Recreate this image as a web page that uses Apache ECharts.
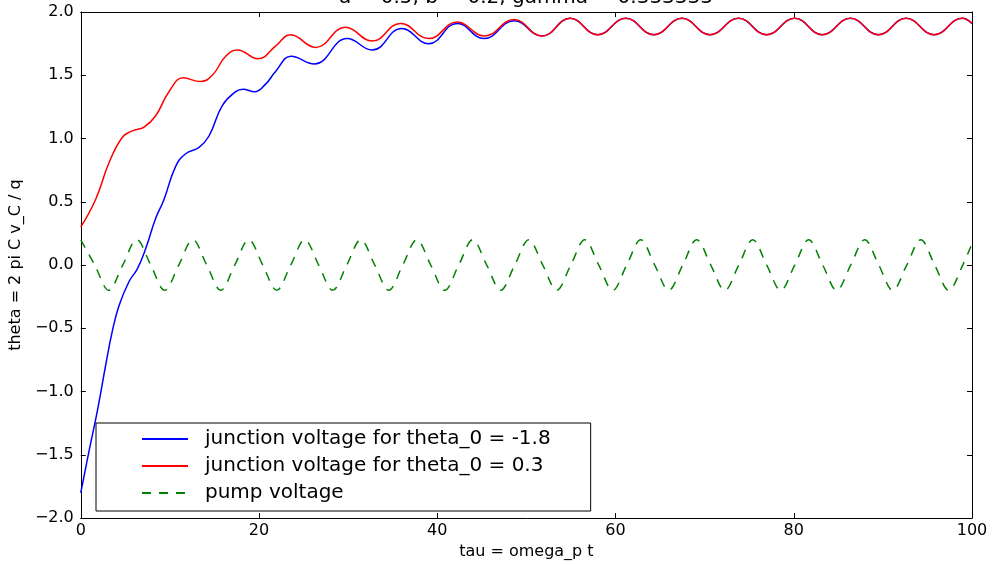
<!DOCTYPE html>
<html>
<head>
<meta charset="utf-8">
<script src="https://cdn.jsdelivr.net/npm/echarts@6/dist/echarts.min.js"></script>
<style>html,body{margin:0;padding:0;background:#fff;}#c{width:992px;height:565px;}</style>
</head>
<body>
<div id="c"></div>
<script>
const titleText = "a = 0.5, b = 0.2, gamma = 0.333333";
const xName = "tau = omega_p t";
const yName = "theta = 2 pi C v_C / q";
const seriesNames = ["junction voltage for theta_0 = -1.8", "junction voltage for theta_0 = 0.3", "pump voltage"];
const xTicks = [0, 20, 40, 60, 80, 100];
const yTicks = [-2.0, -1.5, -1.0, -0.5, 0.0, 0.5, 1.0, 1.5, 2.0];

const blueTau = [0, 0.93, 1.87, 2.80, 3.55, 4.30, 5.42, 6.35, 7.29, 8.41, 9.3, 10.65, 11.77, 13.27, 14.39, 15.88, 17.38, 18.2, 19.5, 20.74, 21.86, 23.6, 26.2, 29.9, 32.7, 36.0, 39.05, 42.23, 45.25, 48.6, 51.75, 54.9, 58.0, 61.15, 64.3, 67.45, 70.6, 73.8, 76.95, 80.1, 83.2, 86.35, 89.5, 92.6, 95.75, 98.9, 100];
const blueVal = [-1.80, -1.47, -1.15, -0.79, -0.52, -0.32, -0.13, -0.03, 0.13, 0.37, 0.51, 0.78, 0.88, 0.93, 1.02, 1.26, 1.37, 1.39, 1.37, 1.43, 1.53, 1.65, 1.59, 1.79, 1.70, 1.87, 1.75, 1.91, 1.79, 1.93, 1.81, 1.95, 1.82, 1.95, 1.82, 1.95, 1.82, 1.95, 1.82, 1.95, 1.82, 1.95, 1.82, 1.95, 1.82, 1.95, 1.91];

const redTau = [0, 1.68, 3.18, 4.67, 5.79, 7.1, 8.41, 9.9, 11.5, 13.4, 14.76, 16.26, 17.57, 19.9, 21.86, 23.54, 26.35, 29.7, 32.7, 35.87, 39.05, 42.23, 45.3, 48.6, 51.75, 54.9, 58.0, 61.15, 64.3, 67.45, 70.6, 73.8, 76.95, 80.1, 83.2, 86.35, 89.5, 92.6, 95.75, 98.9, 100];
const redVal = [0.30, 0.52, 0.81, 1.01, 1.06, 1.09, 1.18, 1.37, 1.48, 1.45, 1.50, 1.65, 1.70, 1.63, 1.73, 1.82, 1.72, 1.88, 1.77, 1.91, 1.79, 1.92, 1.81, 1.94, 1.81, 1.95, 1.82, 1.95, 1.82, 1.95, 1.82, 1.95, 1.82, 1.95, 1.82, 1.95, 1.82, 1.95, 1.82, 1.95, 1.91];

const pumpTau = [0, 1.57, 3.14, 4.71, 6.28, 7.85, 9.42, 11.0, 12.57, 14.14, 15.71, 17.28, 18.85, 20.42, 21.99, 23.56, 25.13, 26.70, 28.27, 29.85, 31.42, 32.99, 34.56, 36.13, 37.70, 39.27, 40.84, 42.41, 43.98, 45.55, 47.12, 48.69, 50.27, 51.84, 53.41, 54.98, 56.55, 58.12, 59.69, 61.26, 62.83, 64.40, 65.97, 67.54, 69.12, 70.69, 72.26, 73.83, 75.40, 76.97, 78.54, 80.11, 81.68, 83.25, 84.82, 86.39, 87.96, 89.54, 91.11, 92.68, 94.25, 95.82, 97.39, 98.96, 100];
const pumpVal = [0.2, 0, -0.2, 0, 0.2, 0, -0.2, 0, 0.2, 0, -0.2, 0, 0.2, 0, -0.2, 0, 0.2, 0, -0.2, 0, 0.2, 0, -0.2, 0, 0.2, 0, -0.2, 0, 0.2, 0, -0.2, 0, 0.2, 0, -0.2, 0, 0.2, 0, -0.2, 0, 0.2, 0, -0.2, 0, 0.2, 0, -0.2, 0, 0.2, 0, -0.2, 0, 0.2, 0, -0.2, 0, 0.2, 0, -0.2, 0, 0.2, 0, -0.2, 0, 0.17];

function pairs(xs, ys) { return xs.map((x, i) => [x, ys[i]]); }

const FONT = "DejaVu Sans";
const axisCommon = {
  axisLine: { show: true, onZero: false, lineStyle: { color: '#000', width: 1 } },
  axisTick: { show: true, inside: true, length: 5, lineStyle: { color: '#000' } },
  splitLine: { show: false }
};

const chart = echarts.init(document.getElementById('c'), null, { renderer: 'canvas' });
chart.setOption({
  animation: false,
  backgroundColor: '#fff',
  title: {
    text: titleText, left: 526, top: -12, textAlign: 'center', padding: 0,
    textStyle: { fontFamily: FONT, fontSize: 20, fontWeight: 'normal', color: '#000' }
  },
  grid: { left: 80, right: 20, top: 12, bottom: 44 },
  legend: {
    data: seriesNames, orient: 'vertical', left: 96, top: 423,
    itemWidth: 46, itemHeight: 14, itemGap: 7,
    padding: [6, 40, 8, 45],
    borderColor: '#000', borderWidth: 1, backgroundColor: '#fff',
    itemStyle: { opacity: 0 },
    textStyle: { fontFamily: FONT, fontSize: 20, lineHeight: 20, color: '#000', padding: [0, 0, 0, 12] }
  },
  xAxis: [
    Object.assign({}, axisCommon, {
      type: 'value', min: 0, max: 100, interval: 20, position: 'bottom',
      name: xName, nameLocation: 'middle', nameGap: 22,
      nameTextStyle: { fontFamily: FONT, fontSize: 16, color: '#000' },
      axisLabel: { fontFamily: FONT, fontSize: 16, color: '#000', margin: 5,
        formatter: v => xTicks.indexOf(v) >= 0 ? String(v) : '' }
    }),
    Object.assign({}, axisCommon, {
      type: 'value', min: 0, max: 100, interval: 20, position: 'top', axisLabel: { show: false }
    })
  ],
  yAxis: [
    Object.assign({}, axisCommon, {
      type: 'value', min: -2, max: 2, interval: 0.5, position: 'left',
      name: yName, nameLocation: 'middle', nameGap: 44,
      nameTextStyle: { fontFamily: FONT, fontSize: 16, color: '#000' },
      axisLabel: { fontFamily: FONT, fontSize: 16, color: '#000', margin: 7,
        formatter: v => v.toFixed(1).replace('-', '\u2212') }
    }),
    Object.assign({}, axisCommon, {
      type: 'value', min: -2, max: 2, interval: 0.5, position: 'right', axisLabel: { show: false }
    })
  ],
  series: [
    { name: seriesNames[0], type: 'line', data: pairs(blueTau, blueVal), symbol: 'none', smooth: 0.45,
      color: '#0000ff', lineStyle: { color: '#0000ff', width: 1.5 }, clip: true },
    { name: seriesNames[1], type: 'line', data: pairs(redTau, redVal), symbol: 'none', smooth: 0.45,
      color: '#ff0000', lineStyle: { color: '#ff0000', width: 1.5 }, clip: true },
    { name: seriesNames[2], type: 'line', data: pairs(pumpTau, pumpVal), symbol: 'none', smooth: 0.35,
      color: '#008000', lineStyle: { color: '#008000', width: 1.5, type: [9, 8] }, clip: true }
  ]
});
</script>
</body>
</html>
